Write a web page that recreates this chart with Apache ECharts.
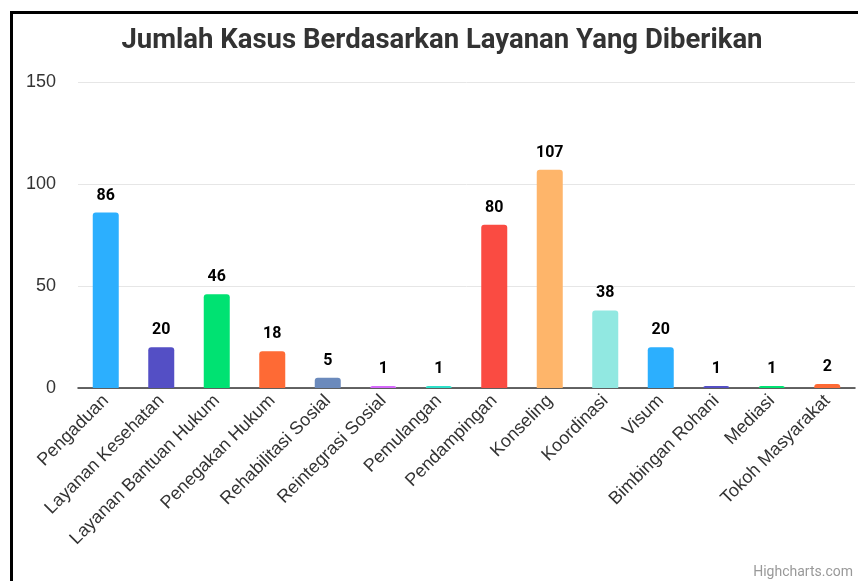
<!DOCTYPE html>
<html><head><meta charset="utf-8">
<script src="https://cdn.jsdelivr.net/npm/echarts@6/dist/echarts.min.js"></script>
<style>html,body{margin:0;padding:0;background:#fff;}#c{width:858px;height:581px;}</style>
</head><body><div id="c"></div>
<script>
const categories = ["Pengaduan","Layanan Kesehatan","Layanan Bantuan Hukum","Penegakan Hukum","Rehabilitasi Sosial","Reintegrasi Sosial","Pemulangan","Pendampingan","Konseling","Koordinasi","Visum","Bimbingan Rohani","Mediasi","Tokoh Masyarakat"];
const values = [86,20,46,18,5,1,1,80,107,38,20,1,1,2];
const colors = ["#2caffe","#544fc5","#00e272","#fe6a35","#6b8abc","#d568fb","#2ee0ca","#fa4b42","#feb56a","#91e8e1","#2caffe","#544fc5","#00e272","#fe6a35"];
const yTicks = [0,50,100,150];

const chart = echarts.init(document.getElementById('c'), null, {renderer:'canvas'});
chart.setOption({
  animation:false,
  textStyle:{fontFamily:'Roboto'},
  title:{text:'Jumlah Kasus Berdasarkan Layanan Yang Diberikan', left:437, textAlign:'center', top:22,
    textStyle:{fontFamily:'Roboto', fontSize:27.5, fontWeight:'bold', color:'#333'}},
  grid:{left:78, right:3, top:82, bottom:193, containLabel:false},
  xAxis:{type:'category', data:categories,
    axisLine:{lineStyle:{color:'#333', width:1.5}}, axisTick:{show:false},
    axisLabel:{rotate:45, interval:0, fontSize:18, color:'#333', margin:10, fontFamily:'Liberation Sans'}},
  yAxis:{type:'value', min:yTicks[0], max:yTicks[yTicks.length-1], interval:50,
    axisLine:{show:false}, axisTick:{show:false},
    splitLine:{lineStyle:{color:'#e6e6e6'}},
    axisLabel:{fontSize:18, color:'#333', margin:22, fontFamily:'Liberation Sans'}},
  series:[{type:'bar', barWidth:26,
    data: values.map((v,i)=>({value:v, itemStyle:{color:colors[i], borderRadius:[3,3,0,0]}})),
    label:{show:true, position:'top', distance:9, fontSize:16, fontWeight:'bold', color:'#000', fontFamily:'Roboto'}}],
  graphic:[
    {type:'rect', shape:{x:10, y:11, width:3, height:570}, style:{fill:'#000'}},
    {type:'rect', shape:{x:10, y:11, width:848, height:3}, style:{fill:'#000'}},
    {type:'text', right:5, bottom:2, style:{text:'Highcharts.com', fill:'#999', fontSize:14, fontFamily:'Roboto'}}
  ]
});
</script></body></html>
